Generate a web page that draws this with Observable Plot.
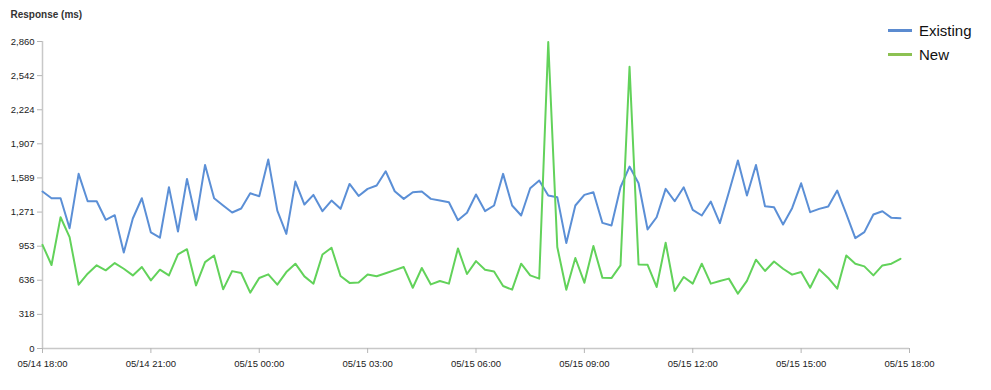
<!DOCTYPE html>
<html>
<head>
<meta charset="utf-8">
<script src="https://cdn.jsdelivr.net/npm/d3@7"></script>
<script src="https://cdn.jsdelivr.net/npm/@observablehq/plot@0.6"></script>
<style>
  body { margin: 0; background: #fff; font-family: Arial, "Liberation Sans", Helvetica, sans-serif; }
  #wrap { position: relative; width: 991px; height: 390px; }
  .legend { position: absolute; left: 888px; top: 19px; font-size: 15px; color: #111; }
  .legend .item { display: flex; align-items: center; height: 23.5px; }
  .legend .sw { width: 24px; height: 3px; margin-right: 7px; }
</style>
</head>
<body>
<div id="wrap"></div>
<script>
// ---- data ----
const seriesNames = ["Existing", "New"];
const legendColors = ["#5b8bd0", "#8cc152"];
const lineColors = ["#5b8fd6", "#62d25a"];
const yLabel = "Response (ms)";
const startTime = new Date(2021, 4, 14, 18, 0);   // 05/14 18:00
const endTime = new Date(2021, 4, 15, 18, 0);     // 05/15 18:00
const stepMinutes = 15;

const existing = [
  1462, 1400, 1400, 1121, 1627, 1372, 1372, 1199, 1242, 895,
  1211, 1400, 1081, 1032, 1503, 1090, 1580, 1199, 1710, 1400,
  1332, 1267, 1304, 1446, 1418, 1760, 1285, 1068, 1555, 1341,
  1431, 1279, 1378, 1301, 1533, 1421, 1487, 1518, 1651, 1465,
  1394, 1456, 1462, 1394, 1378, 1363, 1195, 1265, 1435, 1280,
  1332, 1627, 1332, 1239, 1493, 1565, 1425, 1410, 982, 1332,
  1431, 1456, 1170, 1146, 1502, 1695, 1540, 1109, 1223, 1487,
  1372, 1502, 1292, 1239, 1369, 1168, 1456, 1751, 1425, 1710,
  1326, 1316, 1155, 1307, 1539, 1270, 1301, 1323, 1471, 1254,
  1028, 1084, 1248, 1279, 1217, 1214
];
const newer = [
  966, 778, 1223, 1038, 594, 697, 775, 728, 796, 743,
  681, 759, 635, 734, 681, 876, 925, 588, 805, 867,
  551, 721, 703, 520, 657, 691, 595, 712, 790, 672,
  604, 876, 939, 675, 611, 615, 690, 673, 701, 730,
  759, 566, 750, 597, 629, 604, 932, 694, 814, 734,
  718, 582, 548, 790, 681, 651, 2855, 945, 548, 843,
  613, 954, 658, 656, 774, 2624, 783, 780, 573, 985,
  536, 666, 604, 790, 604, 629, 651, 511, 630, 827,
  722, 811, 743, 688, 712, 566, 737, 657, 557, 867,
  790, 765, 681, 774, 790, 836
];
const yTicks = [0, 318, 636, 953, 1271, 1589, 1907, 2224, 2542, 2860];

// ---- build table ----
const times = existing.map((_, i) => d3.timeMinute.offset(startTime, i * stepMinutes));
const table = [];
[existing, newer].forEach((vals, s) => {
  vals.forEach((v, i) => table.push({ time: times[i], value: v, series: seriesNames[s] }));
});
const xTicks = d3.timeHour.every(3).range(startTime, d3.timeMinute.offset(endTime, 1));
const fmt = d3.timeFormat("%m/%d %H:%M");

const chart = Plot.plot({
  width: 991,
  height: 390,
  marginLeft: 42,
  marginRight: 82,
  marginTop: 41,
  marginBottom: 42,
  style: { fontFamily: 'Arial, "Liberation Sans", Helvetica, sans-serif', fontSize: "9.5px", color: "#222", background: "white" },
  x: { type: "time", domain: [startTime, endTime] },
  y: { domain: [0, 2860] },
  color: { domain: seriesNames, range: lineColors },
  marks: [
    Plot.ruleY([0], { stroke: "#c8c8c8", strokeWidth: 1.5 }),
    Plot.ruleX([startTime], { stroke: "#c8c8c8", strokeWidth: 1.5 }),
    Plot.axisX({ ticks: xTicks, tickFormat: fmt, tickSize: 5, tickPadding: 7, stroke: "#b5b5b5", label: null }),
    Plot.axisY({ ticks: yTicks, tickFormat: d3.format(","), tickSize: 5, tickPadding: 3, stroke: "#b5b5b5", label: null }),
    Plot.lineY(table, { x: "time", y: "value", stroke: "series", strokeWidth: 2 }),
    Plot.text([yLabel], { frameAnchor: "top-left", dx: -32, dy: -23.5, textAnchor: "start", lineAnchor: "bottom", fontWeight: "bold", fontSize: 10, fill: "#333" })
  ]
});

const wrap = document.getElementById("wrap");
wrap.appendChild(chart);
const legend = document.createElement("div");
legend.className = "legend";
seriesNames.forEach((name, i) => {
  const item = document.createElement("div");
  item.className = "item";
  const sw = document.createElement("span");
  sw.className = "sw";
  sw.style.background = legendColors[i];
  const label = document.createElement("span");
  label.textContent = name;
  item.appendChild(sw);
  item.appendChild(label);
  legend.appendChild(item);
});
wrap.appendChild(legend);
</script>
</body>
</html>
